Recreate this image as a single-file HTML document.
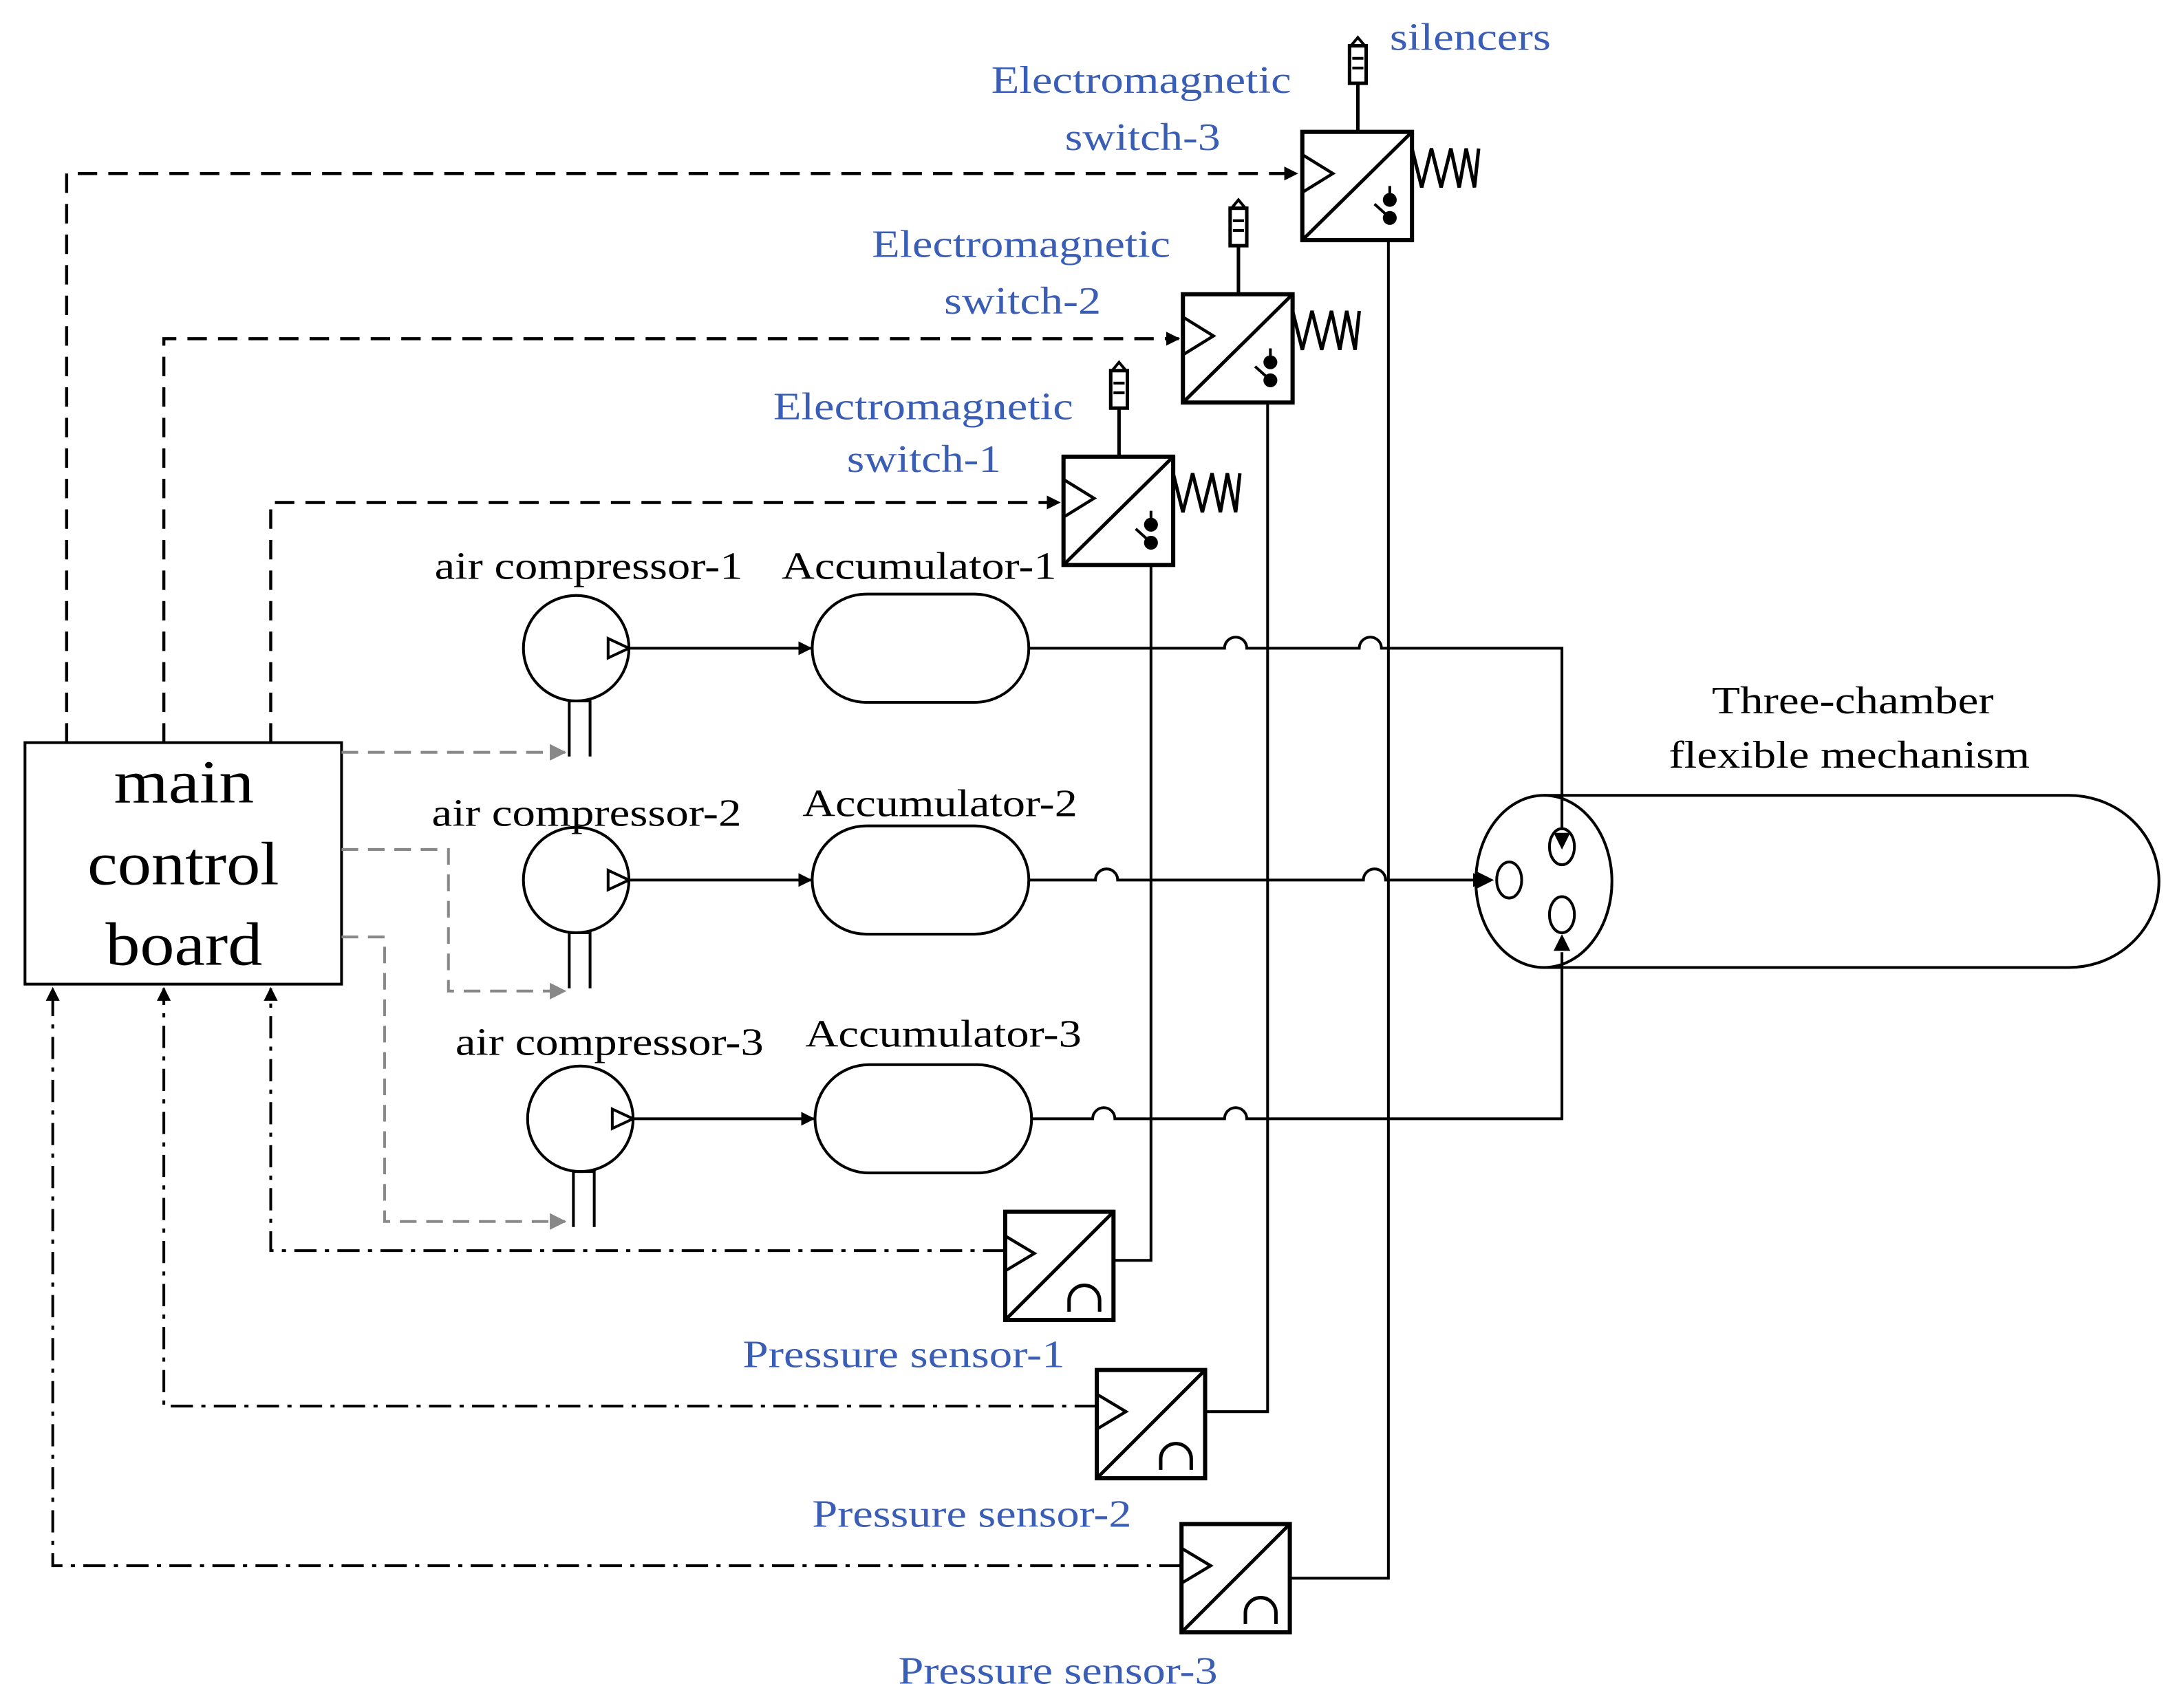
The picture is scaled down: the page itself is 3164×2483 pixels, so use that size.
<!DOCTYPE html>
<html><head><meta charset="utf-8"><style>
html,body{margin:0;padding:0;background:#fff}
svg{display:block}
text{font-family:"Liberation Serif",serif}
</style></head><body>
<svg width="3164" height="2483" viewBox="0 0 1568 1230.5" preserveAspectRatio="none" xmlns="http://www.w3.org/2000/svg">
<defs>
<marker id="ab" markerWidth="10" markerHeight="10" refX="9" refY="5" orient="auto" markerUnits="userSpaceOnUse"><path d="M0,0 L10,5 L0,10z" fill="#000"/></marker>
<marker id="ag" markerWidth="12" markerHeight="12" refX="11" refY="6" orient="auto" markerUnits="userSpaceOnUse"><path d="M0,0 L12,6 L0,12z" fill="#888"/></marker>
<g id="sw">
<rect x="0" y="0" width="79" height="78" fill="#fff" stroke="#000" stroke-width="3"/>
<line x1="1" y1="77" x2="78" y2="1" stroke="#000" stroke-width="2.5"/>
<polyline points="1,17 22,30 1,43" fill="none" stroke="#000" stroke-width="2.2"/>
<polyline points="79,12 86,40 93,12 100,40 107,12 113,40 118,12 124,40 127,12" fill="none" stroke="#000" stroke-width="2.5"/>
<circle cx="63" cy="49" r="5"/><circle cx="63" cy="62" r="5"/>
<line x1="63" y1="39" x2="63" y2="49" stroke="#000" stroke-width="2"/>
<line x1="52" y1="52" x2="62" y2="61" stroke="#000" stroke-width="2"/>
<rect x="34" y="-62" width="12" height="27" fill="#fff" stroke="#000" stroke-width="2.5"/>
<path d="M35,-62 L40,-68 L45,-62" fill="none" stroke="#000" stroke-width="2"/>
<line x1="36" y1="-53" x2="44" y2="-53" stroke="#000" stroke-width="2"/>
<line x1="36" y1="-46" x2="44" y2="-46" stroke="#000" stroke-width="2"/>
<line x1="40" y1="-35" x2="40" y2="0" stroke="#000" stroke-width="2.5"/>
</g>
<g id="ps">
<rect x="0" y="0" width="78" height="78" fill="#fff" stroke="#000" stroke-width="3"/>
<line x1="1" y1="77" x2="77" y2="1" stroke="#000" stroke-width="2.5"/>
<polyline points="1,18 21,30 1,42" fill="none" stroke="#000" stroke-width="2.2"/>
<path d="M46,72 L46,64 A11,11 0 0 1 68,64 L68,72" fill="none" stroke="#000" stroke-width="2.5"/>
</g>
</defs>

<rect x="18" y="535" width="228" height="174" fill="#fff" stroke="#000" stroke-width="2"/>
<g font-size="44" lengthAdjust="spacingAndGlyphs">
<text x="82" y="578" textLength="101" lengthAdjust="spacingAndGlyphs">main</text>
<text x="63" y="637" textLength="138" lengthAdjust="spacingAndGlyphs">control</text>
<text x="76" y="695" textLength="113" lengthAdjust="spacingAndGlyphs">board</text>
</g>

<g fill="none" stroke="#000" stroke-width="2.2" stroke-dasharray="14,8">
<polyline points="48,535 48,125 934,125" marker-end="url(#ab)"/>
<polyline points="118,535 118,244 849,244" marker-end="url(#ab)"/>
<polyline points="195,535 195,362 763,362" marker-end="url(#ab)"/>
</g>
<g fill="none" stroke="#888" stroke-width="2" stroke-dasharray="12,7">
<polyline points="246,542 407,542" marker-end="url(#ag)"/>
<polyline points="246,612 323,612 323,714 407,714" marker-end="url(#ag)"/>
<polyline points="246,675 277,675 277,880 407,880" marker-end="url(#ag)"/>
</g>
<g fill="none" stroke="#000" stroke-width="2" stroke-dasharray="16,6,3,6">
<polyline points="724,901 195,901 195,712" marker-end="url(#ab)"/>
<polyline points="790,1013 118,1013 118,712" marker-end="url(#ab)"/>
<polyline points="851,1128 38,1128 38,712" marker-end="url(#ab)"/>
</g>

<g fill="none" stroke="#000" stroke-width="2">
<polyline points="829,390 829,908 802,908"/>
<polyline points="913,273 913,1017 868,1017"/>
<polyline points="1000,156 1000,1137 929,1137"/>
</g>

<g fill="#fff" stroke="#000" stroke-width="2">
<circle cx="415" cy="467" r="38"/><circle cx="415" cy="634" r="38"/><circle cx="418" cy="806" r="38"/>
<path d="M438,460 L453,467 L438,474z"/><path d="M438,627 L453,634 L438,641z"/><path d="M441,799 L456,806 L441,813z"/>
</g>
<g stroke="#000" stroke-width="2" fill="none">
<polyline points="410,545 410,505 425,505 425,545"/>
<polyline points="410,712 410,672 425,672 425,712"/>
<polyline points="413,884 413,844 428,844 428,884"/>
<line x1="453" y1="467" x2="584" y2="467" marker-end="url(#ab)"/>
<line x1="453" y1="634" x2="584" y2="634" marker-end="url(#ab)"/>
<line x1="456" y1="806" x2="586" y2="806" marker-end="url(#ab)"/>
</g>
<g fill="#fff" stroke="#000" stroke-width="2">
<rect x="585" y="428" width="156" height="78" rx="39"/>
<rect x="585" y="595" width="156" height="78" rx="39"/>
<rect x="587" y="767" width="156" height="78" rx="39"/>
</g>
<g fill="none" stroke="#000" stroke-width="2">
<path d="M741,467 L882,467 A8,8 0 0 1 898,467 L979,467 A8,8 0 0 1 995,467 L1125,467 L1125,598" marker-end="url(#ab)"/>
<path d="M741,634 L789,634 A8,8 0 0 1 805,634 L982,634 A8,8 0 0 1 998,634 L1070,634" marker-end="url(#ab)"/>
<path d="M743,806 L787,806 A8,8 0 0 1 803,806 L882,806 A8,8 0 0 1 898,806 L1125,806 L1125,673" marker-end="url(#ab)"/>
</g>
<g fill="none" stroke="#000" stroke-width="2">
<path d="M1112,573 L1490,573 A65,62 0 0 1 1490,697 L1112,697"/>
<ellipse cx="1112" cy="635" rx="49" ry="62" fill="#fff"/>
<ellipse cx="1087" cy="634" rx="9" ry="13"/>
<ellipse cx="1125" cy="610" rx="9" ry="13"/>
<ellipse cx="1125" cy="659" rx="9" ry="13"/>
</g>
<g fill="#000">
<path d="M1119,600 L1131,600 L1125,612z"/>
<path d="M1119,685 L1131,685 L1125,673z"/>
<path d="M1064,628 L1076,634 L1064,640z"/>
</g>
<line x1="1125" y1="573" x2="1125" y2="598" stroke="#000" stroke-width="2"/>
<line x1="1125" y1="697" x2="1125" y2="686" stroke="#000" stroke-width="2"/>

<use href="#sw" x="938" y="95"/>
<use href="#sw" x="852" y="212"/>
<use href="#sw" x="766" y="329"/>
<use href="#ps" x="724" y="873"/>
<use href="#ps" x="790" y="987"/>
<use href="#ps" x="851" y="1098"/>

<g font-size="28" fill="#3a5db5">
<text x="1001" y="36" textLength="116" lengthAdjust="spacingAndGlyphs">silencers</text>
<text x="714" y="67" textLength="216" lengthAdjust="spacingAndGlyphs">Electromagnetic</text>
<text x="767" y="108" textLength="112" lengthAdjust="spacingAndGlyphs">switch-3</text>
<text x="628" y="185" textLength="215" lengthAdjust="spacingAndGlyphs">Electromagnetic</text>
<text x="680" y="226" textLength="113" lengthAdjust="spacingAndGlyphs">switch-2</text>
<text x="557" y="302" textLength="216" lengthAdjust="spacingAndGlyphs">Electromagnetic</text>
<text x="610" y="340" textLength="111" lengthAdjust="spacingAndGlyphs">switch-1</text>
<text x="535" y="985" textLength="232" lengthAdjust="spacingAndGlyphs">Pressure sensor-1</text>
<text x="585" y="1100" textLength="230" lengthAdjust="spacingAndGlyphs">Pressure sensor-2</text>
<text x="647" y="1213" textLength="230" lengthAdjust="spacingAndGlyphs">Pressure sensor-3</text>
</g>
<g font-size="28" fill="#000">
<text x="313" y="417" textLength="222" lengthAdjust="spacingAndGlyphs">air compressor-1</text>
<text x="563" y="417" textLength="198" lengthAdjust="spacingAndGlyphs">Accumulator-1</text>
<text x="311" y="595" textLength="223" lengthAdjust="spacingAndGlyphs">air compressor-2</text>
<text x="578" y="588" textLength="198" lengthAdjust="spacingAndGlyphs">Accumulator-2</text>
<text x="328" y="760" textLength="222" lengthAdjust="spacingAndGlyphs">air compressor-3</text>
<text x="580" y="754" textLength="199" lengthAdjust="spacingAndGlyphs">Accumulator-3</text>
<text x="1233" y="514" textLength="203" lengthAdjust="spacingAndGlyphs">Three-chamber</text>
<text x="1202" y="553" textLength="260" lengthAdjust="spacingAndGlyphs">flexible mechanism</text>
</g>
</svg>
</body></html>
